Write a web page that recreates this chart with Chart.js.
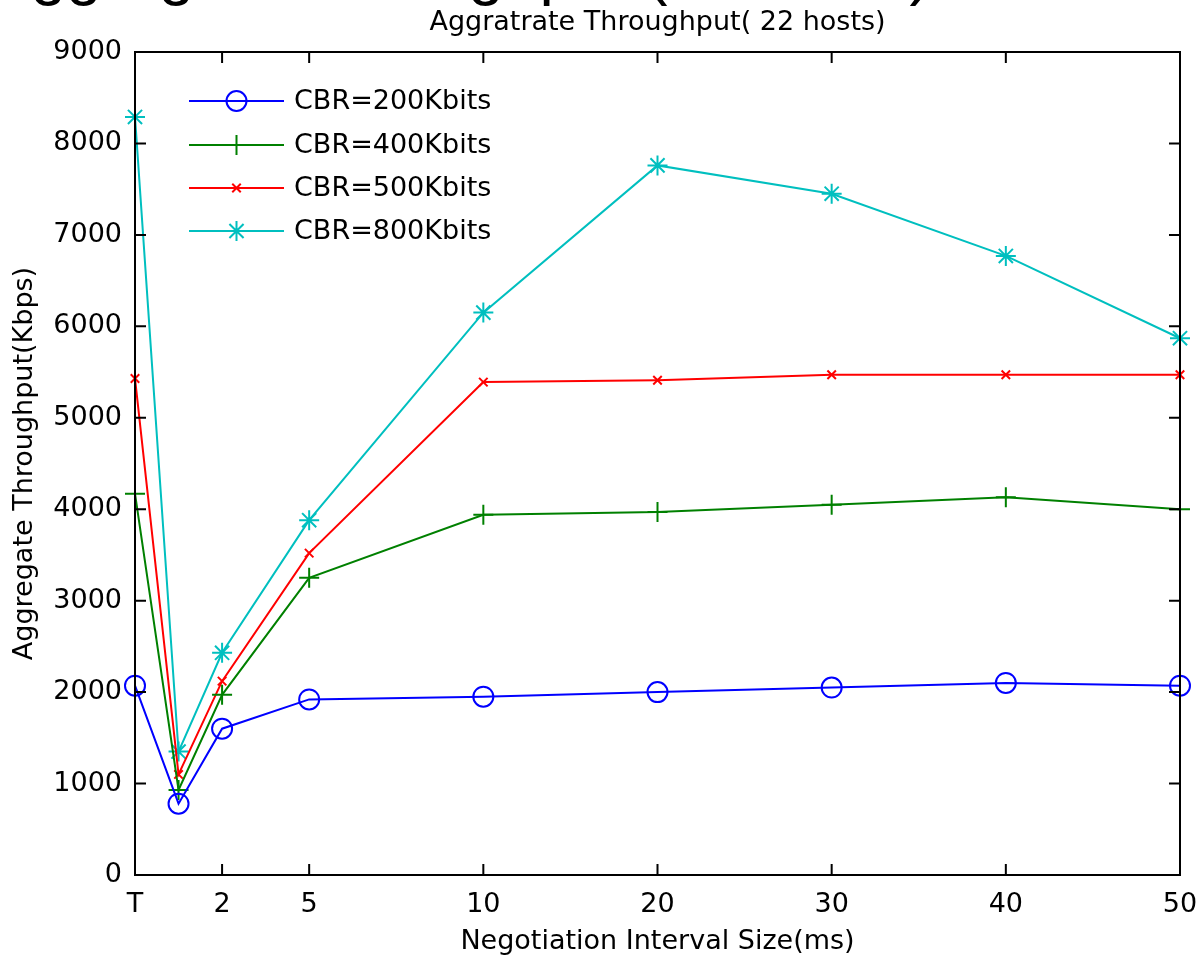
<!DOCTYPE html>
<html>
<head>
<meta charset="utf-8">
<script src="https://cdn.jsdelivr.net/npm/chart.js@4/dist/chart.umd.min.js"></script>
<style>
  html, body { margin: 0; padding: 0; background: #fff; }
  canvas { display: block; }
</style>
</head>
<body>
<canvas id="chart" width="1198" height="959"></canvas>
<script>
// x 位置 (T, 1, 2, 5, 10, 20, 30, 40, 50 ms 映射到等距刻度)
const xPositions = [0, 0.5, 1, 2, 4, 6, 8, 10, 12];
const xTickValues = [0, 1, 2, 4, 6, 8, 10, 12];
const xTickLabels = ['T', '2', '5', '10', '20', '30', '40', '50'];

// 各 CBR 的吞吐量 (Kbps)
const cbr200 = [2070, 780, 1600, 1920, 1950, 2000, 2050, 2100, 2070];
const cbr400 = [4170, 930, 1970, 3250, 3940, 3970, 4050, 4130, 4000];
const cbr500 = [5430, 1100, 2120, 3520, 5390, 5410, 5470, 5470, 5470];
const cbr800 = [8290, 1350, 2430, 3880, 6150, 7760, 7450, 6770, 5870];

const seriesLabels = ['CBR=200Kbits', 'CBR=400Kbits', 'CBR=500Kbits', 'CBR=800Kbits'];
const yMin = 0, yMax = 9000, yStep = 1000;

const FONT = 'DejaVu Sans';
const FSIZE = 27;

function toPoints(arr) {
    return arr.map((v, i) => ({ x: xPositions[i], y: v }));
}

function makeSet(label, data, color, style, radius) {
    return {
        label: label,
        data: toPoints(data),
        borderColor: color,
        backgroundColor: color,
        borderWidth: 2,
        pointStyle: style,
        pointRadius: radius,
        pointBorderWidth: 2,
        pointBackgroundColor: 'rgba(0,0,0,0)',
        pointBorderColor: color,
        tension: 0,
        fill: false,
        clip: false
    };
}

// 画框、内向刻度、图例和标题
const matlabPlugin = {
    id: 'matlab',
    beforeDraw(chart) {
        const ctx = chart.ctx;
        ctx.save();
        ctx.fillStyle = '#fff';
        ctx.fillRect(0, 0, chart.width, chart.height);
        ctx.restore();
    },
    afterDraw(chart) {
        const ctx = chart.ctx;
        const a = chart.chartArea;
        const xs = chart.scales.x, ys = chart.scales.y;
        ctx.save();

        // 坐标框
        ctx.strokeStyle = '#000';
        ctx.lineWidth = 2;
        ctx.strokeRect(a.left, a.top, a.right - a.left, a.bottom - a.top);

        // 内向刻度
        const tl = 11;
        ctx.beginPath();
        xTickValues.forEach(v => {
            const px = xs.getPixelForValue(v);
            ctx.moveTo(px, a.bottom); ctx.lineTo(px, a.bottom - tl);
            ctx.moveTo(px, a.top); ctx.lineTo(px, a.top + tl);
        });
        for (let v = yMin; v <= yMax; v += yStep) {
            const py = ys.getPixelForValue(v);
            ctx.moveTo(a.left, py); ctx.lineTo(a.left + tl, py);
            ctx.moveTo(a.right, py); ctx.lineTo(a.right - tl, py);
        }
        ctx.stroke();

        // 图例
        const lx0 = 189, lx1 = 284, tx = 294;
        const rows = [101, 145, 188, 231];
        chart.data.datasets.forEach((ds, i) => {
            const y = rows[i];
            ctx.strokeStyle = ds.borderColor;
            ctx.lineWidth = 2;
            ctx.beginPath();
            ctx.moveTo(lx0, y); ctx.lineTo(lx1, y);
            ctx.stroke();
            Chart.helpers.drawPoint(ctx, {
                pointStyle: ds.pointStyle,
                radius: ds.pointRadius,
                rotation: 0,
                borderWidth: 2
            }, (lx0 + lx1) / 2, y);
            ctx.fillStyle = '#000';
            ctx.font = FSIZE + 'px ' + FONT;
            ctx.textAlign = 'left';
            ctx.textBaseline = 'middle';
            ctx.fillText(ds.label, tx, y + 1);
        });

        // 小标题
        ctx.fillStyle = '#000';
        ctx.font = FSIZE + 'px ' + FONT;
        ctx.textAlign = 'center';
        ctx.textBaseline = 'alphabetic';
        ctx.fillText('Aggratrate Throughput( 22 hosts)', (a.left + a.right) / 2, 30);

        // 被截断的大标题 (只露出下伸部分)
        ctx.font = '64px Liberation Sans';
        ctx.textAlign = 'left';
        ctx.fillText('Aggregate Throughput (22 hosts)', -12, -7);

        ctx.restore();
    }
};

const ctx = document.getElementById('chart').getContext('2d');
const chart = new Chart(ctx, {
    type: 'line',
    data: {
        datasets: [
            makeSet(seriesLabels[0], cbr200, '#0000ff', 'circle', 10),
            makeSet(seriesLabels[1], cbr400, '#008000', 'cross', 10),
            makeSet(seriesLabels[2], cbr500, '#ff0000', 'crossRot', 6),
            makeSet(seriesLabels[3], cbr800, '#00bfbf', 'star', 10)
        ]
    },
    options: {
        responsive: false,
        animation: false,
        layout: { padding: { top: 52, right: 18, left: 0, bottom: 0 } },
        plugins: {
            legend: { display: false },
            title: { display: false },
            tooltip: { enabled: false }
        },
        scales: {
            x: {
                type: 'linear',
                min: 0,
                max: 12,
                afterBuildTicks(scale) {
                    scale.ticks = xTickValues.map(v => ({ value: v }));
                },
                afterFit(scale) {
                    scale.height = 84;
                    scale.paddingLeft = 0;
                    scale.paddingRight = 0;
                },
                grid: { display: false, drawTicks: false },
                border: { display: false },
                ticks: {
                    color: '#000',
                    font: { family: FONT, size: FSIZE },
                    padding: 14,
                    maxRotation: 0,
                    callback: (v) => {
                        const i = xTickValues.indexOf(v);
                        return i >= 0 ? xTickLabels[i] : '';
                    }
                },
                title: {
                    display: true,
                    text: 'Negotiation Interval Size(ms)',
                    color: '#000',
                    font: { family: FONT, size: FSIZE },
                    padding: { top: 0, bottom: 1 }
                }
            },
            y: {
                min: yMin,
                max: yMax,
                afterFit(scale) {
                    scale.width = 135;
                    scale.paddingTop = 0;
                    scale.paddingBottom = 0;
                },
                grid: { display: false, drawTicks: false },
                border: { display: false },
                ticks: {
                    stepSize: yStep,
                    color: '#000',
                    font: { family: FONT, size: FSIZE },
                    padding: 13,
                    callback: (v) => String(v)
                },
                title: {
                    display: true,
                    text: 'Aggregate Throughput(Kbps)',
                    color: '#000',
                    font: { family: FONT, size: FSIZE },
                    padding: { top: 9, bottom: 0 }
                }
            }
        }
    },
    plugins: [matlabPlugin]
});
</script>
</body>
</html>
